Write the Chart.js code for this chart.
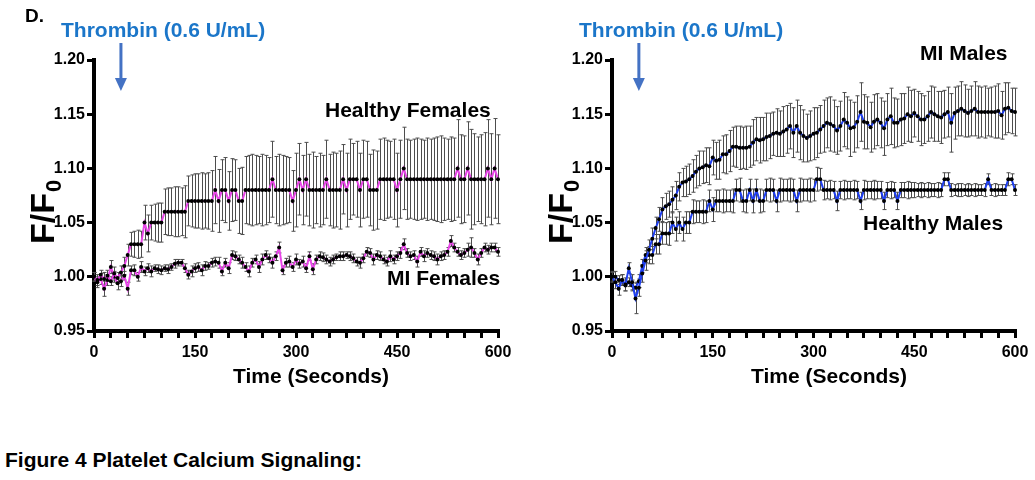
<!DOCTYPE html>
<html>
<head>
<meta charset="utf-8">
<script src="https://cdn.jsdelivr.net/npm/chart.js@4.4.1/dist/chart.umd.min.js"></script>
<style>
  body { margin: 0; background: #fff; width: 1035px; height: 480px; position: relative; overflow: hidden;
         font-family: "Liberation Sans", Arial, sans-serif; }
  canvas { position: absolute; top: 0; }
  #left { left: 0; }
  #right { left: 518px; }
  #panel { position: absolute; left: 25px; top: 6px; font-weight: bold; font-size: 19px; line-height: 19px; }
  #caption { position: absolute; left: 5px; top: 449px; font-weight: bold; font-size: 21px; line-height: 21px; }
</style>
</head>
<body>
<canvas id="left" width="518" height="410"></canvas>
<canvas id="right" width="517" height="410"></canvas>
<div id="panel">D.</div>
<div id="caption">Figure 4 Platelet Calcium Signaling:</div>
<script>
// sampling times (s)
const times = [0,5,10,15,20,25,30,35,40,45,50,55,60,65,70,75,80,85,90,95,
  100,105,110,115,120,125,130,135,140,145,150,155,160,165,170,175,180,185,190,195,
  200,205,210,215,220,225,230,235,240,245,250,255,260,265,270,275,280,285,290,295,
  300,305,310,315,320,325,330,335,340,345,350,355,360,365,370,375,380,385,390,395,
  400,405,410,415,420,425,430,435,440,445,450,455,460,465,470,475,480,485,490,495,
  500,505,510,515,520,525,530,535,540,545,550,555,560,565,570,575,580,585,590,595,600];

const xTickLabels = [0, 150, 300, 450, 600];
const yTickLabels = [0.95, 1.00, 1.05, 1.10, 1.15, 1.20];
const thrombinTime = 40;

// Healthy females (mean, SEM)
const healthyFemales = [1.000,0.997,1.002,0.998,1.001,0.996,1.003,0.999,1.004,1.010,
  1.020,1.030,1.030,1.030,1.030,1.050,1.040,1.050,1.050,1.050,
  1.050,1.060,1.060,1.060,1.060,1.060,1.060,1.060,1.070,1.070,
  1.070,1.070,1.070,1.070,1.070,1.070,1.080,1.070,1.080,1.080,
  1.070,1.080,1.080,1.070,1.070,1.080,1.080,1.080,1.080,1.080,
  1.080,1.080,1.080,1.090,1.080,1.080,1.080,1.080,1.080,1.070,
  1.080,1.090,1.080,1.090,1.080,1.080,1.080,1.080,1.080,1.090,
  1.080,1.080,1.080,1.080,1.090,1.080,1.090,1.090,1.090,1.080,
  1.090,1.090,1.080,1.080,1.080,1.090,1.090,1.090,1.090,1.090,
  1.080,1.090,1.100,1.090,1.090,1.090,1.090,1.090,1.090,1.090,
  1.090,1.090,1.090,1.090,1.090,1.090,1.090,1.090,1.100,1.090,
  1.090,1.100,1.090,1.090,1.090,1.090,1.090,1.100,1.090,1.100,
  1.090];
const healthyFemalesErr = [0.004,0.005,0.004,0.006,0.005,0.004,0.006,0.005,0.006,0.008,
  0.010,0.011,0.012,0.013,0.012,0.016,0.017,0.016,0.017,0.018,
  0.018,0.021,0.022,0.022,0.023,0.023,0.022,0.024,0.023,0.024,
  0.025,0.025,0.026,0.025,0.026,0.028,0.031,0.029,0.028,0.030,
  0.027,0.029,0.028,0.030,0.031,0.031,0.032,0.033,0.032,0.031,
  0.033,0.032,0.030,0.035,0.031,0.033,0.032,0.031,0.030,0.028,
  0.034,0.033,0.032,0.034,0.033,0.035,0.031,0.034,0.032,0.036,
  0.033,0.035,0.034,0.036,0.032,0.034,0.037,0.033,0.035,0.034,
  0.036,0.035,0.033,0.037,0.036,0.037,0.038,0.036,0.035,0.037,
  0.034,0.036,0.038,0.037,0.036,0.037,0.038,0.037,0.036,0.038,
  0.037,0.038,0.039,0.040,0.038,0.037,0.039,0.038,0.045,0.041,
  0.040,0.043,0.046,0.042,0.039,0.041,0.043,0.045,0.042,0.046,
  0.041];

// MI females
const miFemales = [1.000,0.995,0.998,0.989,0.997,1.009,1.000,0.994,0.996,1.001,
  0.989,1.006,1.006,1.000,1.009,1.005,1.008,1.005,1.008,1.007,
  1.006,1.008,1.007,1.009,1.012,1.013,1.013,1.008,1.002,1.005,
  1.008,1.009,1.006,1.010,1.010,1.013,1.014,1.013,1.005,1.013,
  1.008,1.020,1.019,1.016,1.013,1.009,1.005,1.013,1.016,1.009,
  1.016,1.020,1.017,1.013,1.019,1.027,1.006,1.013,1.014,1.009,
  1.016,1.012,1.014,1.008,1.019,1.007,1.016,1.019,1.018,1.016,
  1.014,1.016,1.018,1.019,1.019,1.020,1.019,1.017,1.014,1.013,
  1.017,1.023,1.022,1.016,1.020,1.019,1.016,1.014,1.019,1.016,
  1.019,1.022,1.030,1.022,1.019,1.020,1.014,1.023,1.019,1.022,
  1.020,1.019,1.016,1.019,1.020,1.023,1.033,1.027,1.023,1.020,
  1.022,1.025,1.027,1.022,1.016,1.022,1.027,1.025,1.027,1.027,
  1.023];
const miFemalesErr = [0.004,0.005,0.005,0.007,0.005,0.006,0.005,0.006,0.005,0.004,
  0.006,0.004,0.005,0.004,0.005,0.004,0.004,0.005,0.003,0.004,
  0.004,0.003,0.004,0.003,0.004,0.003,0.003,0.004,0.004,0.005,
  0.004,0.004,0.005,0.004,0.003,0.004,0.004,0.005,0.004,0.004,
  0.005,0.004,0.004,0.004,0.005,0.004,0.005,0.004,0.004,0.005,
  0.005,0.004,0.004,0.005,0.004,0.005,0.004,0.004,0.005,0.004,
  0.005,0.004,0.005,0.004,0.004,0.005,0.004,0.004,0.004,0.004,
  0.004,0.004,0.003,0.004,0.004,0.003,0.004,0.004,0.004,0.005,
  0.004,0.004,0.004,0.005,0.004,0.004,0.004,0.004,0.005,0.004,
  0.004,0.005,0.005,0.004,0.004,0.004,0.005,0.004,0.005,0.004,
  0.004,0.004,0.005,0.004,0.004,0.004,0.005,0.004,0.004,0.004,
  0.004,0.006,0.009,0.004,0.005,0.004,0.004,0.004,0.004,0.004,
  0.004];

// MI males
const miMales = [1.000,0.995,0.989,0.997,0.993,1.008,0.995,0.980,0.990,1.003,
  1.015,1.025,1.035,1.045,1.053,1.062,1.065,1.067,1.071,1.075,
  1.083,1.087,1.088,1.090,1.093,1.097,1.100,1.101,1.103,1.102,
  1.110,1.107,1.108,1.113,1.113,1.116,1.120,1.120,1.119,1.119,
  1.119,1.120,1.124,1.127,1.126,1.127,1.129,1.130,1.132,1.133,
  1.132,1.134,1.136,1.139,1.133,1.139,1.133,1.130,1.128,1.130,
  1.132,1.133,1.136,1.139,1.142,1.141,1.139,1.135,1.139,1.145,
  1.142,1.137,1.138,1.143,1.152,1.143,1.142,1.138,1.143,1.145,
  1.142,1.137,1.145,1.148,1.142,1.142,1.145,1.146,1.150,1.148,
  1.151,1.148,1.145,1.145,1.148,1.152,1.150,1.148,1.147,1.150,
  1.152,1.142,1.151,1.153,1.155,1.153,1.151,1.153,1.155,1.152,
  1.152,1.152,1.152,1.152,1.152,1.153,1.149,1.155,1.156,1.153,
  1.152];
const miMalesErr = [0.005,0.006,0.006,0.005,0.006,0.005,0.007,0.014,0.008,0.008,
  0.009,0.009,0.010,0.010,0.011,0.011,0.012,0.012,0.012,0.013,
  0.013,0.013,0.014,0.014,0.015,0.015,0.016,0.015,0.016,0.017,
  0.016,0.017,0.018,0.017,0.018,0.019,0.018,0.019,0.020,0.019,
  0.020,0.019,0.021,0.020,0.021,0.020,0.022,0.021,0.020,0.022,
  0.021,0.023,0.022,0.021,0.023,0.024,0.025,0.024,0.022,0.023,
  0.024,0.023,0.022,0.024,0.023,0.025,0.024,0.022,0.023,0.025,
  0.024,0.026,0.023,0.024,0.027,0.025,0.024,0.023,0.025,0.024,
  0.023,0.025,0.024,0.026,0.023,0.022,0.024,0.023,0.025,0.024,
  0.022,0.023,0.024,0.022,0.023,0.024,0.025,0.023,0.024,0.022,
  0.023,0.027,0.024,0.023,0.025,0.024,0.022,0.023,0.025,0.024,
  0.023,0.024,0.022,0.023,0.024,0.025,0.022,0.024,0.023,0.021,
  0.022];

// Healthy males
const healthyMales = [1.000,1.000,0.997,0.997,0.992,0.995,0.992,0.990,0.996,1.010,
  1.020,1.020,1.020,1.030,1.030,1.040,1.040,1.040,1.050,1.044,
  1.050,1.044,1.050,1.050,1.060,1.060,1.060,1.060,1.060,1.070,
  1.062,1.070,1.070,1.070,1.070,1.070,1.070,1.080,1.080,1.070,
  1.070,1.080,1.070,1.080,1.070,1.070,1.080,1.080,1.080,1.070,
  1.080,1.080,1.080,1.080,1.080,1.070,1.080,1.080,1.080,1.080,
  1.080,1.090,1.090,1.080,1.080,1.080,1.080,1.070,1.080,1.080,
  1.080,1.080,1.080,1.080,1.070,1.080,1.080,1.080,1.080,1.080,
  1.080,1.070,1.080,1.080,1.080,1.070,1.080,1.080,1.080,1.080,
  1.080,1.080,1.080,1.080,1.080,1.080,1.080,1.080,1.080,1.090,
  1.090,1.080,1.080,1.080,1.080,1.080,1.080,1.080,1.080,1.080,
  1.080,1.080,1.090,1.080,1.080,1.080,1.080,1.080,1.090,1.090,
  1.080];
const healthyMalesErr = [0.004,0.005,0.004,0.005,0.005,0.004,0.005,0.005,0.006,0.006,
  0.007,0.008,0.008,0.009,0.009,0.010,0.010,0.011,0.010,0.011,
  0.010,0.011,0.010,0.010,0.011,0.010,0.010,0.011,0.010,0.010,
  0.011,0.010,0.010,0.011,0.010,0.010,0.011,0.010,0.011,0.010,
  0.011,0.010,0.011,0.010,0.011,0.010,0.010,0.011,0.010,0.010,
  0.011,0.010,0.010,0.011,0.010,0.010,0.011,0.010,0.010,0.011,
  0.010,0.011,0.010,0.009,0.008,0.009,0.008,0.009,0.008,0.009,
  0.008,0.008,0.009,0.008,0.008,0.009,0.008,0.008,0.009,0.008,
  0.008,0.008,0.007,0.008,0.007,0.008,0.007,0.007,0.008,0.007,
  0.007,0.006,0.007,0.006,0.007,0.006,0.006,0.007,0.006,0.006,
  0.006,0.006,0.005,0.006,0.006,0.005,0.006,0.005,0.006,0.005,
  0.005,0.006,0.005,0.005,0.006,0.005,0.005,0.005,0.006,0.005,
  0.005];

const FONT = '"Liberation Sans", Arial, sans-serif';
const MAGENTA = '#e845e8';
const BLUE = '#1f3ff0';

// vertical error bars with caps, drawn under the lines
const errorBars = {
  id: 'errorBars',
  beforeDatasetsDraw(chart) {
    const { ctx, scales: { x, y } } = chart;
    ctx.save();
    ctx.strokeStyle = '#4d4d4d';
    ctx.lineWidth = 1;
    chart.data.datasets.forEach(ds => {
      ds.data.forEach((p, i) => {
        const e = ds.errors[i];
        const px = Math.round(x.getPixelForValue(p.x)) + 0.5;
        const top = y.getPixelForValue(p.y + e);
        const bot = y.getPixelForValue(p.y - e);
        ctx.beginPath();
        ctx.moveTo(px, top); ctx.lineTo(px, bot);
        ctx.moveTo(px - 2, top); ctx.lineTo(px + 2, top);
        ctx.moveTo(px - 2, bot); ctx.lineTo(px + 2, bot);
        ctx.stroke();
      });
    });
    ctx.restore();
  }
};

// annotations: thrombin arrow, series names, axis titles
const figureText = {
  id: 'figureText',
  afterDraw(chart, args, opts) {
    const { ctx, scales: { x } } = chart;
    ctx.save();
    ctx.font = 'bold 21px ' + FONT;
    ctx.textBaseline = 'alphabetic';
    ctx.fillStyle = '#1b76c9';
    ctx.fillText('Thrombin (0.6 U/mL)', 61, 37);

    const ax = x.getPixelForValue(thrombinTime);
    ctx.fillStyle = '#4472c4';
    ctx.fillRect(ax - 1.5, 43, 3, 36);
    ctx.beginPath();
    ctx.moveTo(ax - 6, 78); ctx.lineTo(ax + 6, 78); ctx.lineTo(ax, 91);
    ctx.closePath();
    ctx.fill();

    ctx.fillStyle = '#000';
    opts.labels.forEach(l => ctx.fillText(l.text, l.x, l.y));

    ctx.textAlign = 'center';
    ctx.fillText('Time (Seconds)', 311, 383);

    ctx.translate(54, 244);
    ctx.rotate(-Math.PI / 2);
    ctx.textAlign = 'left';
    ctx.font = 'bold 34px ' + FONT;
    ctx.fillText('F/F', 0, 0);
    const w = ctx.measureText('F/F').width;
    ctx.font = 'bold 22px ' + FONT;
    ctx.fillText('0', w + 1, 7);
    ctx.restore();
  }
};

function series(values, errors, color) {
  return {
    data: times.map((t, i) => ({ x: t, y: values[i] })),
    errors: errors,
    borderColor: color,
    borderWidth: 2,
    pointRadius: 2,
    pointBackgroundColor: '#000',
    pointBorderWidth: 0,
    tension: 0,
    clip: false
  };
}

function makeOptions(labels) {
  const tickFont = { family: FONT, size: 16, weight: 'bold' };
  return {
    responsive: false,
    animation: false,
    layout: { padding: { top: 60, right: 20, bottom: 0, left: 0 } },
    plugins: { legend: { display: false }, tooltip: { enabled: false }, figureText: { labels: labels } },
    scales: {
      x: {
        type: 'linear', min: 0, max: 600,
        afterFit: s => { s.height = 79; },
        border: { display: true, width: 4, color: '#000' },
        grid: { drawOnChartArea: false, drawTicks: true, tickLength: 7, tickWidth: 3, tickColor: '#000', lineWidth: 3, color: '#000' },
        ticks: {
          stepSize: 25, autoSkip: false, maxRotation: 0, padding: 5, color: '#000', font: tickFont,
          callback: v => xTickLabels.includes(v) ? String(v) : ''
        }
      },
      y: {
        min: yTickLabels[0], max: yTickLabels[yTickLabels.length - 1],
        afterFit: s => { s.width = 94; },
        border: { display: true, width: 4, color: '#000' },
        grid: { drawOnChartArea: false, drawTicks: true, tickLength: 7, tickWidth: 3, tickColor: '#000', lineWidth: 3, color: '#000' },
        ticks: { stepSize: 0.05, padding: 2, color: '#000', font: tickFont, callback: v => Number(v).toFixed(2) }
      }
    }
  };
}

new Chart(document.getElementById('left'), {
  type: 'line',
  data: { datasets: [series(healthyFemales, healthyFemalesErr, MAGENTA), series(miFemales, miFemalesErr, MAGENTA)] },
  options: makeOptions([
    { text: 'Healthy Females', x: 325, y: 117 },
    { text: 'MI Females', x: 387, y: 285 }
  ]),
  plugins: [errorBars, figureText]
});

new Chart(document.getElementById('right'), {
  type: 'line',
  data: { datasets: [series(miMales, miMalesErr, BLUE), series(healthyMales, healthyMalesErr, BLUE)] },
  options: makeOptions([
    { text: 'MI Males', x: 402, y: 60 },
    { text: 'Healthy Males', x: 345, y: 230 }
  ]),
  plugins: [errorBars, figureText]
});
</script>
</body>
</html>
